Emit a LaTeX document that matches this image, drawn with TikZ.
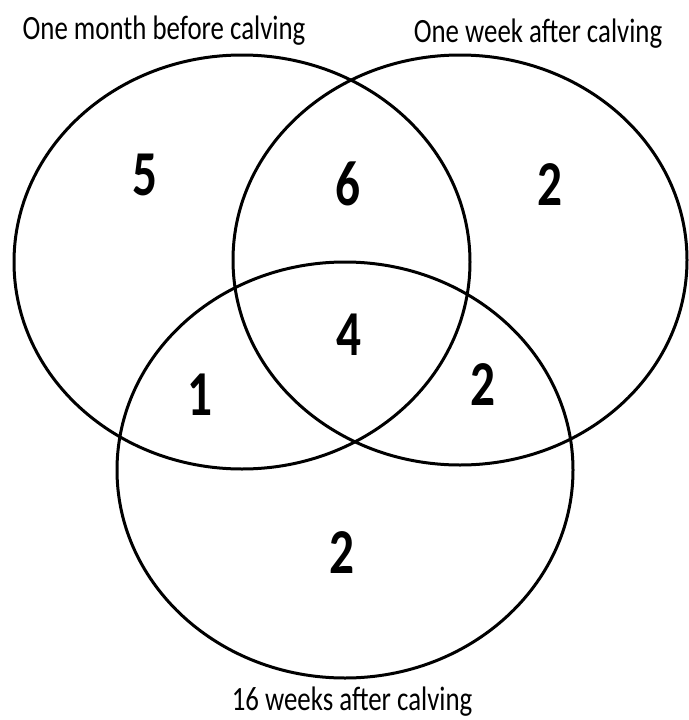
\documentclass[tikz,border=0pt]{standalone}
\usepackage{fontspec}
\setmainfont{Carlito}
\usepackage{tikz}

\tikzset{
  setlabel/.style={anchor=base,inner sep=0pt,xscale=0.79,font=\fontsize{34}{40}\selectfont},
  setcount/.style={anchor=base,inner sep=0pt,xscale=0.77,font=\fontsize{64}{70}\selectfont\bfseries}
}

\begin{document}
\begin{tikzpicture}[x=1pt,y=-1pt]
\useasboundingbox (0,0) rectangle (688,720);
\draw[line width=3pt] (242,262) ellipse [x radius=228,y radius=207];
\draw[line width=3pt] (460,260) ellipse [x radius=227,y radius=205];
\draw[line width=3pt] (345,470) ellipse [x radius=228,y radius=208];
\node[setlabel] (month) at (164,39) {One month before calving};
\node[setlabel] (week) at (538,42) {One week after calving};
\node[setlabel] (sixteen) at (352,710) {16 weeks after calving};
\node[setcount] (onlyA) at (145,195) {5};
\node[setcount] (AB) at (348,205) {6};
\node[setcount] (onlyB) at (550,205) {2};
\node[setcount] (ABC) at (349,355) {4};
\node[setcount] (AC) at (200,415) {1};
\node[setcount] (BC) at (483,405) {2};
\node[setcount] (onlyC) at (342,573) {2};
\end{tikzpicture}
\end{document}
